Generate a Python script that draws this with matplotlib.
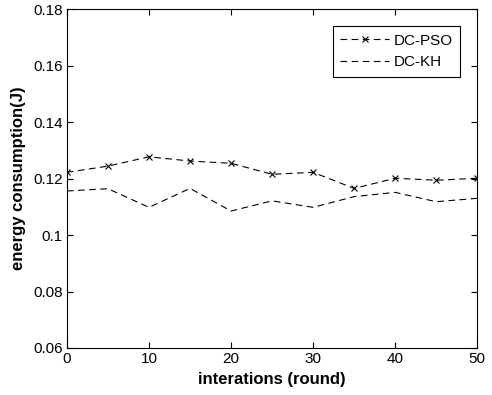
import matplotlib
matplotlib.use("Agg")
import matplotlib.pyplot as plt

# data
rounds = [0, 5, 10, 15, 20, 25, 30, 35, 40, 45, 50]
dc_pso = [0.1222, 0.1244, 0.1277, 0.1262, 0.1254, 0.1215, 0.1222, 0.1165, 0.1201, 0.1194, 0.1201]
dc_kh = [0.1156, 0.1164, 0.1098, 0.1165, 0.1085, 0.1121, 0.1098, 0.1136, 0.1151, 0.1118, 0.1130]

x_ticks = [0, 10, 20, 30, 40, 50]
y_ticks = [0.06, 0.08, 0.1, 0.12, 0.14, 0.16, 0.18]
y_tick_labels = ["0.06", "0.08", "0.1", "0.12", "0.14", "0.16", "0.18"]

plt.rcParams["font.family"] = ["Liberation Sans", "DejaVu Sans"]

fig = plt.figure(figsize=(4.92, 3.95), dpi=100)
ax = fig.add_axes([0.136, 0.119, 0.834, 0.858])

ax.plot(rounds, dc_pso, color="black", linestyle=(0, (6, 4)), linewidth=0.8,
        marker="x", markersize=4.5, markeredgewidth=0.8, label="DC-PSO")
ax.plot(rounds, dc_kh, color="black", linestyle=(0, (6, 4)), linewidth=0.8,
        label="DC-KH")

ax.set_xlim(0, 50)
ax.set_ylim(0.06, 0.18)
ax.set_xticks(x_ticks)
ax.set_yticks(y_ticks)
ax.set_yticklabels(y_tick_labels)
ax.tick_params(direction="in", top=True, right=True, length=4, width=0.8,
               labelsize=11, pad=3)
for s in ax.spines.values():
    s.set_linewidth(0.8)

ax.set_xlabel("interations (round)", fontsize=12, fontweight="bold", labelpad=4)
ax.set_ylabel("energy consumption(J)", fontsize=12, fontweight="bold", labelpad=5)

leg = ax.legend(loc="upper right", fontsize=11, fancybox=False, framealpha=1,
                edgecolor="black", handlelength=3.2, borderaxespad=1.1,
                labelspacing=0.5, handletextpad=0.3, borderpad=0.5)
leg.get_frame().set_linewidth(0.8)

fig.savefig("out.png", dpi=100)
